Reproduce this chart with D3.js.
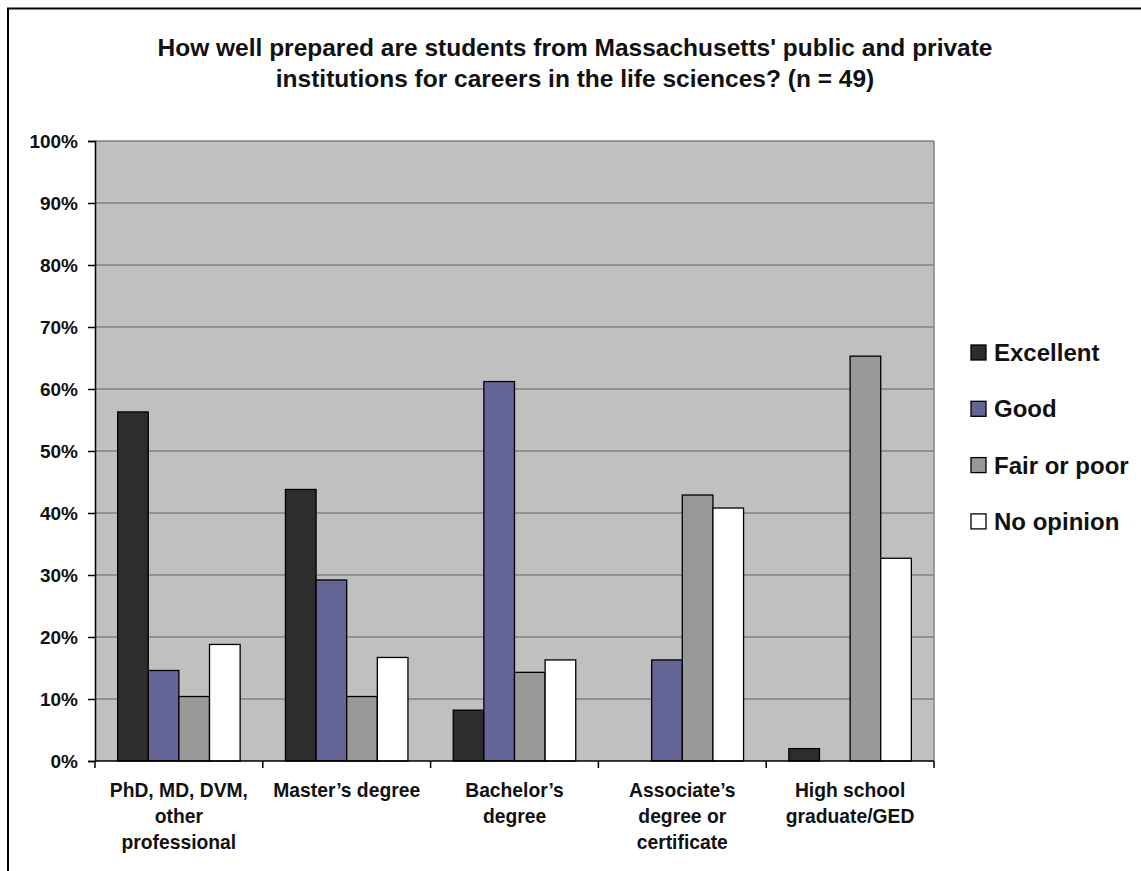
<!DOCTYPE html>
<html>
<head>
<meta charset="utf-8">
<script src="https://cdn.jsdelivr.net/npm/d3@7"></script>
<style>
  html, body { margin: 0; padding: 0; background: #fff; }
  svg { display: block; }
  text { font-family: "Liberation Sans", Arial, sans-serif; font-weight: bold; fill: #111; }
</style>
</head>
<body>
<svg id="chart" width="1141" height="871"></svg>
<script>
// Education levels (one array of label lines per category)
const categories = [
  ["PhD, MD, DVM,", "other", "professional"],
  ["Master\u2019s degree"],
  ["Bachelor\u2019s", "degree"],
  ["Associate\u2019s", "degree or", "certificate"],
  ["High school", "graduate/GED"]
];

// Rating series
const seriesNames = ["Excellent", "Good", "Fair or poor", "No opinion"];
const seriesColors = ["#2d2d2d", "#646496", "#989898", "#ffffff"];

// Percent of respondents per education level
const excellent = [56.3, 43.8, 8.2, 0, 2.0];
const good      = [14.6, 29.2, 61.2, 16.3, 0];
const fairPoor  = [10.4, 10.4, 14.3, 42.9, 65.3];
const noOpinion = [18.8, 16.7, 16.3, 40.8, 32.7];

const yTicks = [0, 10, 20, 30, 40, 50, 60, 70, 80, 90, 100];

const titleLines = [
  "How well prepared are students from Massachusetts' public and private",
  "institutions for careers in the life sciences? (n = 49)"
];

const seriesValues = [excellent, good, fairPoor, noOpinion];

const svg = d3.select("#chart");

// Outer frame (top and left edges)
svg.append("path")
  .attr("d", "M8,871 V8.5 H1141")
  .attr("fill", "none")
  .attr("stroke", "#000")
  .attr("stroke-width", 2);

// Title
svg.append("g").selectAll("text")
  .data(titleLines)
  .join("text")
  .attr("x", 575)
  .attr("y", (d, i) => 56 + i * 30.5)
  .attr("text-anchor", "middle")
  .style("font-size", "24.5px")
  .text(d => d);

// Plot area
const plot = { left: 95, right: 934, top: 141, bottom: 761 };

const x0 = d3.scaleBand()
  .domain(d3.range(categories.length))
  .range([plot.left, plot.right])
  .paddingInner(0.27)
  .paddingOuter(0.135);

const x1 = d3.scaleBand()
  .domain(d3.range(seriesNames.length))
  .range([0, x0.bandwidth()]);

const y = d3.scaleLinear()
  .domain([0, 100])
  .range([plot.bottom, plot.top]);

// Background
svg.append("rect")
  .attr("x", plot.left)
  .attr("y", plot.top)
  .attr("width", plot.right - plot.left)
  .attr("height", plot.bottom - plot.top)
  .attr("fill", "#c0c0c0");

// Horizontal gridlines
svg.append("g").selectAll("line")
  .data(yTicks.filter(d => d > 0))
  .join("line")
  .attr("x1", plot.left)
  .attr("x2", plot.right)
  .attr("y1", d => y(d))
  .attr("y2", d => y(d))
  .attr("stroke", "#808080")
  .attr("stroke-width", 1.5);

// Right edge of plot area
svg.append("line")
  .attr("x1", plot.right).attr("x2", plot.right)
  .attr("y1", plot.top).attr("y2", plot.bottom)
  .attr("stroke", "#808080")
  .attr("stroke-width", 1.5);

// Bars
const groups = svg.append("g").selectAll("g")
  .data(categories.map((c, i) => i))
  .join("g")
  .attr("transform", i => `translate(${x0(i)},0)`);

groups.selectAll("rect")
  .data(i => seriesValues.map((vals, s) => ({ s, v: vals[i] })).filter(d => d.v > 0))
  .join("rect")
  .attr("x", d => x1(d.s))
  .attr("y", d => y(d.v))
  .attr("width", x1.bandwidth())
  .attr("height", d => y(0) - y(d.v))
  .attr("fill", d => seriesColors[d.s])
  .attr("stroke", "#000")
  .attr("stroke-width", 1.3);

// Y axis
const yAxis = svg.append("g")
  .attr("transform", `translate(${plot.left},0)`)
  .call(d3.axisLeft(y).tickValues(yTicks).tickFormat(d => d + "%").tickSize(7).tickPadding(10));
yAxis.select(".domain").attr("stroke", "#000").attr("stroke-width", 1.5);
yAxis.selectAll(".tick line").attr("stroke", "#000").attr("stroke-width", 1.5);
yAxis.selectAll(".tick text")
  .style("font-size", "19px")
  .style("font-family", "'Liberation Sans', Arial, sans-serif")
  .style("font-weight", "bold")
  .attr("fill", "#111")
  .attr("dy", "0.36em");

// X axis: category separators with ticks
const xAxis = svg.append("g")
  .attr("transform", `translate(0,${plot.bottom})`);
xAxis.append("line")
  .attr("x1", plot.left).attr("x2", plot.right)
  .attr("y1", 0).attr("y2", 0)
  .attr("stroke", "#000").attr("stroke-width", 1.5);
const step = x0.step();
xAxis.selectAll(".sep")
  .data(d3.range(categories.length + 1))
  .join("line")
  .attr("class", "sep")
  .attr("x1", i => plot.left + i * step)
  .attr("x2", i => plot.left + i * step)
  .attr("y1", 0).attr("y2", 7)
  .attr("stroke", "#000").attr("stroke-width", 1.5);

// Category labels
const labels = svg.append("g").selectAll("text")
  .data(categories.map((lines, i) => ({ lines, i })))
  .join("text")
  .attr("text-anchor", "middle")
  .style("font-size", "19.3px");
labels.selectAll("tspan")
  .data(d => d.lines.map((t, k) => ({ t, k, i: d.i })))
  .join("tspan")
  .attr("x", d => x0(d.i) + x0.bandwidth() / 2)
  .attr("y", d => 797 + d.k * 26)
  .text(d => d.t);

// Legend
const legend = svg.append("g").selectAll("g")
  .data(seriesNames.map((n, s) => ({ n, s })))
  .join("g")
  .attr("transform", d => `translate(971,${352.5 + d.s * 56.3})`);
legend.append("rect")
  .attr("x", 0).attr("y", -7.5)
  .attr("width", 15).attr("height", 15)
  .attr("fill", d => seriesColors[d.s])
  .attr("stroke", "#000")
  .attr("stroke-width", 1.3);
legend.append("text")
  .attr("x", 23)
  .attr("y", 8.5)
  .style("font-size", "24px")
  .text(d => d.n);
</script>
</body>
</html>
